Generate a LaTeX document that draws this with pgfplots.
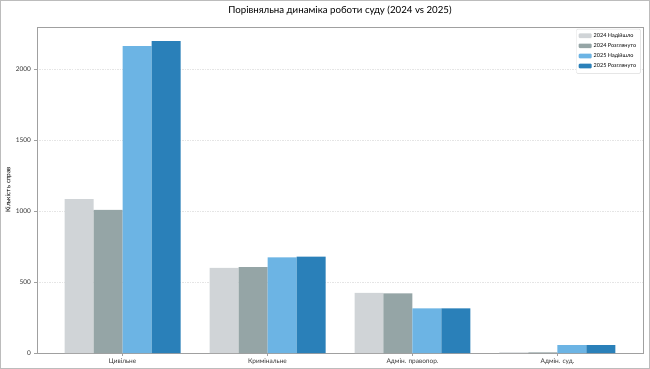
\documentclass[border=0pt]{standalone}
\usepackage{pgfplots}
\pgfplotsset{compat=1.18}
\usepackage{fontspec}
\setmainfont{Lato}
\definecolor{cA}{HTML}{D0D4D7}
\definecolor{cB}{HTML}{95A5A6}
\definecolor{cC}{HTML}{6CB4E4}
\definecolor{cD}{HTML}{2A80B9}
\definecolor{frame}{HTML}{A0A0A0}
\begin{document}
\begin{tikzpicture}
\useasboundingbox (-37pt,-16pt) rectangle (613pt,353pt);
\draw[frame!70, line width=0.8pt] (-36.5pt,-15.5pt) rectangle (612.5pt,352.5pt);
\begin{axis}[
  scale only axis,
  width=606pt, height=326pt,
  at={(0pt,0pt)}, anchor=south west,
  xmin=-0.59, xmax=3.59,
  ymin=0, ymax=2300,
  xtick={0,1,2,3},
  xticklabels={Цивільне,Кримінальне,{Адмін. правопор.},{Адмін. суд.}},
  ytick={0,500,1000,1500,2000},
  /pgf/number format/assume math mode=true,
  /pgf/number format/1000 sep={},
  tick label style={font=\fontsize{6.5}{7}\selectfont, text=black!80},
  tick align=outside,
  tick pos=left,
  major tick length=2.5pt,
  tick style={frame, line width=0.5pt},
  axis line style={frame, line width=0.8pt},
  ymajorgrids,
  grid style={dash pattern=on 1.5pt off 1pt, black!10, line width=0.4pt},
  ylabel={Кількість справ},
  ylabel style={font=\fontsize{6.5}{7}\selectfont, at={(axis description cs:0,0.5)}, anchor=south, yshift=22pt},
  title={Порівняльна динаміка роботи суду (2024 vs 2025)},
  title style={font=\fontsize{9.7}{11}\selectfont, yshift=2pt},
  legend style={at={(0.996,0.994)}, anchor=north east, font=\fontsize{5.5}{6.5}\selectfont, draw=black!15, rounded corners=1pt, row sep=0.6pt, inner sep=2.2pt},
  legend cell align=left,
  area legend,
  legend image code/.code={\fill[#1] (0pt,-2pt) rectangle (13pt,2.7pt);},
]
\addplot[ybar, bar width=0.2, bar shift=-0.3, fill=cA, draw=none] coordinates {(0,1085) (1,600) (2,425) (3,5)};
\addplot[ybar, bar width=0.2, bar shift=-0.1, fill=cB, draw=none] coordinates {(0,1010) (1,605) (2,420) (3,5)};
\addplot[ybar, bar width=0.2, bar shift=0.1, fill=cC, draw=none] coordinates {(0,2165) (1,675) (2,315) (3,55)};
\addplot[ybar, bar width=0.2, bar shift=0.3, fill=cD, draw=none] coordinates {(0,2200) (1,680) (2,315) (3,55)};
\legend{2024 Надійшло,2024 Розглянуто,2025 Надійшло,2025 Розглянуто}
\end{axis}
\end{tikzpicture}
\end{document}
